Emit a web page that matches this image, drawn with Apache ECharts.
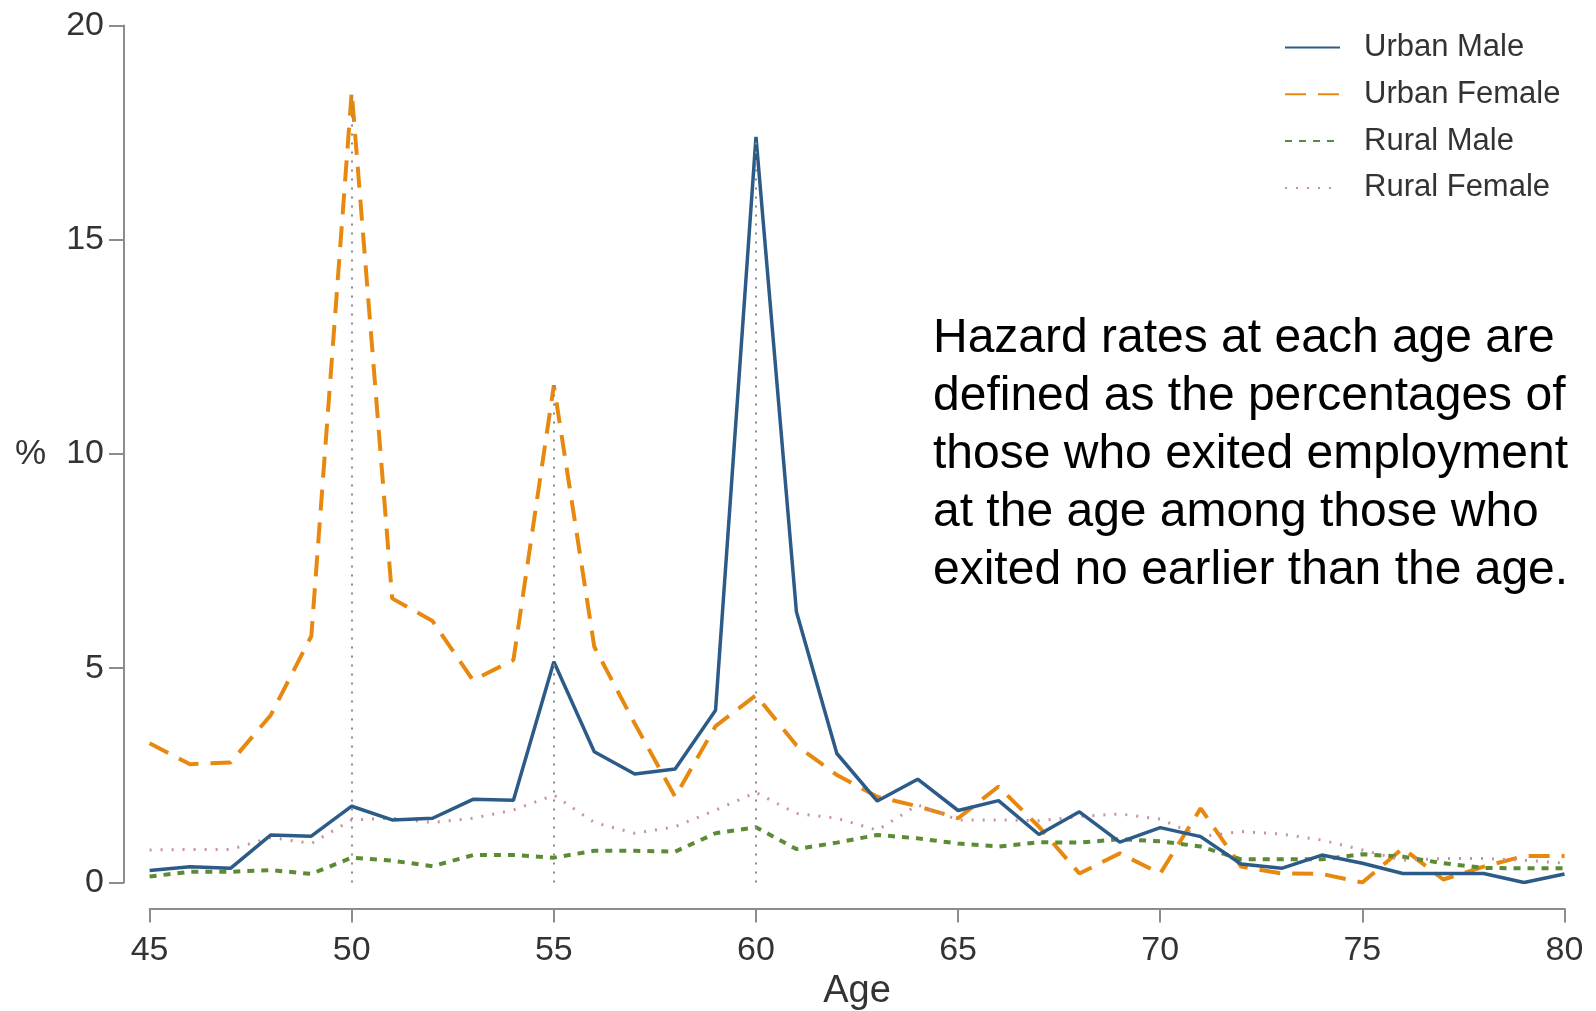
<!DOCTYPE html>
<html>
<head>
<meta charset="utf-8">
<script src="https://cdn.jsdelivr.net/npm/echarts@6/dist/echarts.min.js"></script>
<style>html,body{margin:0;padding:0;background:#fff;}#c{width:1596px;height:1011px;}</style>
</head>
<body>
<div id="c"></div>
<script>
var ages = [45,46,47,48,49,50,51,52,53,54,55,56,57,58,59,60,61,62,63,64,65,66,67,68,69,70,71,72,73,74,75,76,77,78,79,80];
var urbanMale   = [0.28,0.37,0.33,1.11,1.08,1.78,1.46,1.50,1.94,1.92,5.15,3.05,2.53,2.65,4.02,17.4,6.32,3.01,1.90,2.41,1.68,1.91,1.12,1.65,0.94,1.28,1.07,0.43,0.33,0.64,0.45,0.21,0.21,0.21,0.0,0.20];
var urbanFemale = [3.25,2.76,2.80,3.91,5.75,18.45,6.63,6.10,4.72,5.19,11.6,5.50,3.71,2.00,3.65,4.37,3.20,2.51,2.00,1.78,1.50,2.24,1.30,0.21,0.68,0.21,1.73,0.37,0.21,0.20,0.00,0.80,0.07,0.37,0.62,0.62];
var ruralMale   = [0.14,0.25,0.25,0.29,0.20,0.58,0.51,0.38,0.64,0.64,0.58,0.74,0.74,0.72,1.15,1.29,0.78,0.93,1.11,1.03,0.91,0.84,0.94,0.93,1.01,0.96,0.84,0.54,0.54,0.54,0.66,0.60,0.45,0.34,0.33,0.33];
var ruralFemale = [0.76,0.77,0.77,1.05,0.91,1.46,1.50,1.40,1.50,1.69,2.04,1.40,1.15,1.30,1.69,2.10,1.61,1.50,1.22,1.81,1.46,1.46,1.44,1.54,1.60,1.48,1.07,1.19,1.13,0.99,0.76,0.52,0.56,0.56,0.52,0.45];
var seriesNames = ['Urban Male','Urban Female','Rural Male','Rural Female'];
var refAges = [50,55,60];
var xTicks = [45,50,55,60,65,70,75,80];
var yTicks = [0,5,10,15,20];
var noteText = 'Hazard rates at each age are\ndefined as the percentages of\nthose who exited employment\nat the age among those who\nexited no earlier than the age.';

function pairs(vals){ return ages.map(function(a,i){ return [a, vals[i]]; }); }
var allSeries = [urbanMale, urbanFemale, ruralMale, ruralFemale];
var refLines = refAges.map(function(a){
  var i = ages.indexOf(a);
  var top = Math.max.apply(null, allSeries.map(function(s){ return s[i]; }));
  return [{coord:[a,0]},{coord:[a,top]}];
});

var font = 'Liberation Sans';
var chart = echarts.init(document.getElementById('c'));
chart.setOption({
  animation:false,
  backgroundColor:'#fff',
  grid:{left:149.6, right:31.5, top:25.4, bottom:128.5, containLabel:false, outerBoundsMode:'none'},
  legend:{
    orient:'vertical', left:1279, top:25.5,
    data:seriesNames,
    itemWidth:55, itemHeight:14, itemGap:12.8,
    itemStyle:{opacity:0},
    textStyle:{fontFamily:font, fontSize:31, color:'#333', lineHeight:34, padding:[0,0,0,19]}
  },
  xAxis:{
    type:'value', min:45, max:80, interval:5, offset:26,
    name:'Age', nameLocation:'middle', nameGap:62,
    nameTextStyle:{fontFamily:font, fontSize:38, color:'#333'},
    axisLine:{show:true, onZero:false, lineStyle:{color:'#8c8c8c', width:2}},
    axisTick:{show:true, length:14, lineStyle:{color:'#8c8c8c', width:2}},
    axisLabel:{fontFamily:font, fontSize:34, color:'#333', margin:25,
      formatter:function(v){ return xTicks.indexOf(v)>=0 ? String(v) : ''; }},
    splitLine:{show:false}
  },
  yAxis:{
    type:'value', min:0, max:20, interval:5, offset:25.6,
    name:'%', nameLocation:'middle', nameGap:78, nameRotate:0,
    nameTextStyle:{fontFamily:font, fontSize:35, color:'#333'},
    axisLine:{show:true, onZero:false, lineStyle:{color:'#8c8c8c', width:2}},
    axisTick:{show:true, length:15, lineStyle:{color:'#8c8c8c', width:2}},
    axisLabel:{fontFamily:font, fontSize:34, color:'#333', margin:20,
      formatter:function(v){ return yTicks.indexOf(v)>=0 ? String(v) : ''; }},
    splitLine:{show:false}
  },
  graphic:[{
    type:'text', left:933, top:310, silent:true,
    style:{text:noteText, font:'48px "Liberation Sans"', lineHeight:58, fill:'#000'}
  }],
  series:[
    {type:'line', name:'refs', data:[], z:1, silent:true,
      markLine:{silent:true, symbol:'none', label:{show:false},
        lineStyle:{color:'#8a8a8a', width:2, type:[2,7]}, data:refLines}},
    {type:'line', name:'Urban Female', data:pairs(urbanFemale), symbol:'none', z:2,
      lineStyle:{color:'#e8890f', width:4, type:[21,12]}, itemStyle:{color:'#e8890f'}},
    {type:'line', name:'Urban Male', data:pairs(urbanMale), symbol:'none', z:3,
      lineStyle:{color:'#2c5b87', width:3.5, type:'solid'}, itemStyle:{color:'#2c5b87'}},
    {type:'line', name:'Rural Male', data:pairs(ruralMale), symbol:'none', z:2,
      lineStyle:{color:'#5c8a35', width:4, type:[7,7]}, itemStyle:{color:'#5c8a35'}},
    {type:'line', name:'Rural Female', data:pairs(ruralFemale), symbol:'none', z:2,
      lineStyle:{color:'#c9909f', width:3, type:[2,9]}, itemStyle:{color:'#c9909f'}}
  ]
});
</script>
</body>
</html>
